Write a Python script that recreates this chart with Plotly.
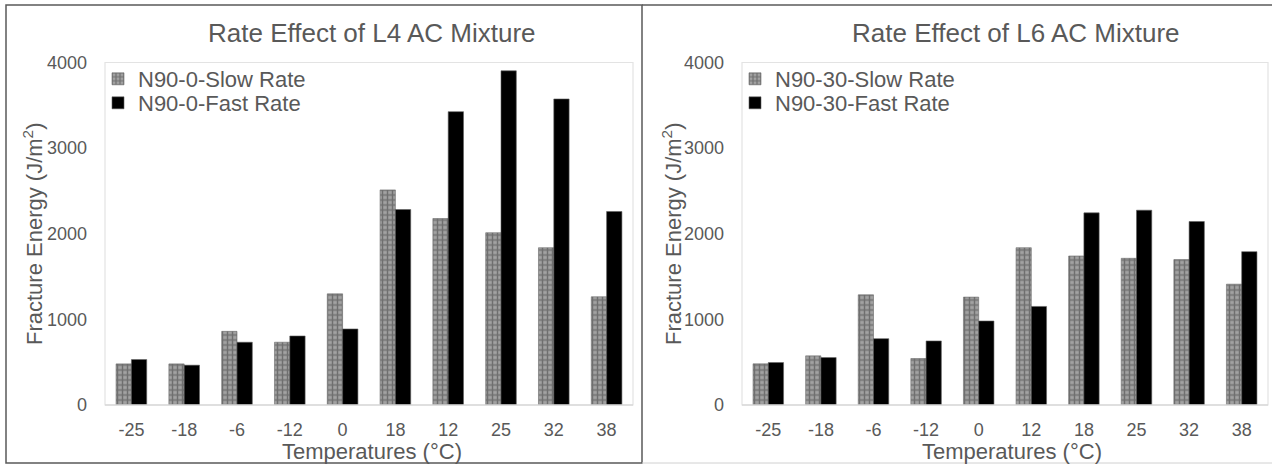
import plotly.graph_objects as go

# Fracture energy (J/m^2) at each test temperature
temps_l4 = ["-25", "-18", "-6", "-12", "0", "18", "12", "25", "32", "38"]
l4_slow = [480, 480, 860, 733, 1298, 2512, 2178, 2012, 1837, 1264]
l4_fast = [531, 465, 733, 806, 888, 2283, 3426, 3903, 3574, 2260]

temps_l6 = ["-25", "-18", "-6", "-12", "0", "12", "18", "25", "32", "38"]
l6_slow = [481, 574, 1287, 543, 1260, 1837, 1740, 1713, 1698, 1411]
l6_fast = [496, 554, 775, 748, 981, 1151, 2244, 2275, 2143, 1791]

W, H = 1272, 465
FONT = "Liberation Sans, Arial, sans-serif"
TXT = "#595959"


def px(x):
    return x / W


def py(y):
    return 1 - y / H


slow_style = dict(
    color="#7a7a7a",
    pattern=dict(shape="+", size=5, solidity=0.5, fgcolor="#3c3c3c", bgcolor="#a2a2a2"),
    line=dict(color="#6a6a6a", width=0.6),
)
fast_style = dict(color="#000000", line=dict(color="#606060", width=0.6))

fig = go.Figure()
fig.add_trace(go.Bar(x=temps_l4, y=l4_slow, name="N90-0-Slow Rate", marker=slow_style,
                     xaxis="x", yaxis="y", legend="legend2"))
fig.add_trace(go.Bar(x=temps_l4, y=l4_fast, name="N90-0-Fast Rate", marker=fast_style,
                     xaxis="x", yaxis="y", legend="legend3"))
fig.add_trace(go.Bar(x=temps_l6, y=l6_slow, name="N90-30-Slow Rate", marker=slow_style,
                     xaxis="x2", yaxis="y2", legend="legend4"))
fig.add_trace(go.Bar(x=temps_l6, y=l6_fast, name="N90-30-Fast Rate", marker=fast_style,
                     xaxis="x2", yaxis="y2", legend="legend5"))

y_dom = [py(405), py(62.5)]
xaxis_common = dict(type="category", showgrid=False, zeroline=False, showline=False,
                    ticks="", tickfont=dict(size=18, color=TXT, family=FONT),
                    ticklabelstandoff=12, fixedrange=True, automargin=False)
yaxis_common = dict(range=[0, 4000], dtick=1000, showgrid=False, zeroline=False,
                    showline=False, ticks="", tickfont=dict(size=18, color=TXT, family=FONT),
                    ticklabelstandoff=17, fixedrange=True, automargin=False)

legend_common = dict(font=dict(size=22, color=TXT, family=FONT), bgcolor="rgba(0,0,0,0)",
                     borderwidth=0, xanchor="left", yanchor="middle", tracegroupgap=0,
                     itemwidth=30)

fig.update_layout(
    width=W, height=H,
    margin=dict(l=0, r=0, t=0, b=0, autoexpand=False),
    paper_bgcolor="white", plot_bgcolor="white",
    font=dict(family=FONT, color=TXT),
    barmode="group", bargap=0.42, bargroupgap=0,
    xaxis=dict(domain=[px(105), px(633)], anchor="y", **xaxis_common),
    yaxis=dict(domain=y_dom, anchor="x", **yaxis_common),
    xaxis2=dict(domain=[px(742), px(1268)], anchor="y2", **xaxis_common),
    yaxis2=dict(domain=y_dom, anchor="x2", **yaxis_common),
    legend2=dict(x=px(98), y=py(79), **legend_common),
    legend3=dict(x=px(98), y=py(103), **legend_common),
    legend4=dict(x=px(735), y=py(79), **legend_common),
    legend5=dict(x=px(735), y=py(103), **legend_common),
)

shapes = []
# outer panel frames
shapes.append(dict(type="rect", xref="paper", yref="paper", x0=px(6), x1=px(642),
                   y0=py(463), y1=py(5), line=dict(color="#5a5a5a", width=1.5)))
shapes.append(dict(type="line", xref="paper", yref="paper", x0=px(642), x1=1,
                   y0=py(5), y1=py(5), line=dict(color="#5a5a5a", width=1.5)))
shapes.append(dict(type="line", xref="paper", yref="paper", x0=px(642), x1=1,
                   y0=py(463), y1=py(463), line=dict(color="#d0d0d0", width=1)))
# plot-area borders
for xa, xb in ((105, 633), (742, 1268)):
    shapes.append(dict(type="rect", xref="paper", yref="paper", x0=px(xa), x1=px(xb),
                       y0=py(405), y1=py(62.5), line=dict(color="#e3e3e3", width=1.2),
                       layer="below"))
    shapes.append(dict(type="line", xref="paper", yref="paper", x0=px(xa), x1=px(xb),
                       y0=py(405), y1=py(405), line=dict(color="#d9d9d9", width=1.5)))
fig.update_layout(shapes=shapes)

annotations = []
for cx, title in ((372, "Rate Effect of L4 AC Mixture"), (1016, "Rate Effect of L6 AC Mixture")):
    annotations.append(dict(text=title, x=px(cx), y=py(33), xref="paper", yref="paper",
                            showarrow=False, xanchor="center", yanchor="middle",
                            font=dict(size=26, color=TXT, family=FONT)))
for cx in (372, 1012):
    annotations.append(dict(text="Temperatures (°C)", x=px(cx), y=py(451), xref="paper",
                            yref="paper", showarrow=False, xanchor="center", yanchor="middle",
                            font=dict(size=22, color=TXT, family=FONT)))
for cx in (33, 672):
    annotations.append(dict(text="Fracture Energy (J/m<sup>2</sup>)", x=px(cx), y=py(234),
                            xref="paper", yref="paper", showarrow=False, textangle=-90,
                            xanchor="center", yanchor="middle",
                            font=dict(size=22, color=TXT, family=FONT)))
fig.update_layout(annotations=annotations)

fig.write_html("out.html")
